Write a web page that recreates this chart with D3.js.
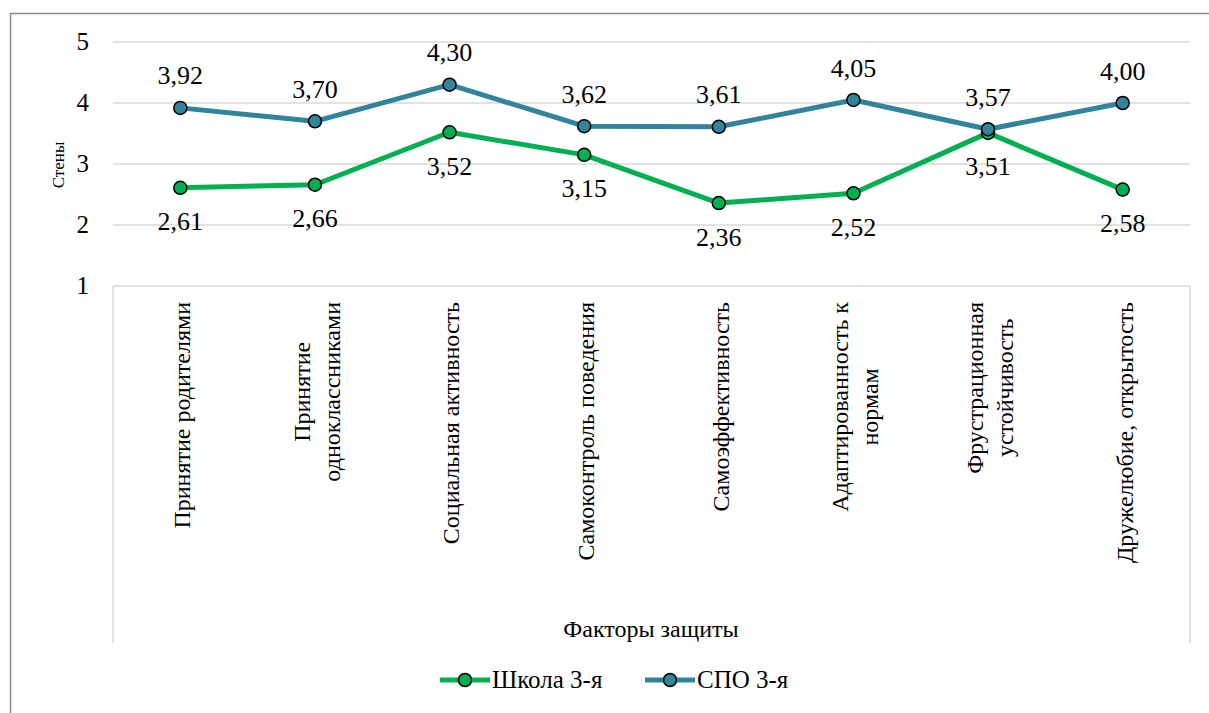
<!DOCTYPE html>
<html><head><meta charset="utf-8">
<script src="https://cdn.jsdelivr.net/npm/d3@7"></script>
<style>
svg#chart text, svg#chart tspan { font-family: "Liberation Serif", "Times New Roman", Tinos, serif !important; }
</style>
</head>
<body style="margin:0">
<svg id="chart" width="1209" height="713"></svg>
<script>
// Factors of protection (category axis)
const categories = [
  ["Принятие родителями"],
  ["Принятие", "одноклассниками"],
  ["Социальная активность"],
  ["Самоконтроль поведения"],
  ["Самоэффективность"],
  ["Адаптированность к", "нормам"],
  ["Фрустрационная", "устойчивость"],
  ["Дружелюбие, открытость"]
];
const seriesNames = ["Школа 3-я", "СПО 3-я"];
const school = [2.61, 2.66, 3.52, 3.15, 2.36, 2.52, 3.51, 2.58];
const spo = [3.92, 3.70, 4.30, 3.62, 3.61, 4.05, 3.57, 4.00];
const yTicks = [1, 2, 3, 4, 5];
const colors = ["#00B050", "#31849B"];

const svg = d3.select("#chart");

// applies the serif face to a text selection
const serif = sel => sel.attr("font-family", "Liberation Serif")
  .attr("style", "font-family: 'Liberation Serif', 'Times New Roman', serif !important");

// outer chart frame
svg.append("rect").attr("x", 10.5).attr("y", 13.5).attr("width", 1220).attr("height", 720)
  .attr("fill", "none").attr("stroke", "#8c8c8c").attr("stroke-width", 1.5);

const plotL = 113, plotR = 1190, plotT = 42, plotB = 286, labelBottom = 643;

const x = d3.scaleBand().domain(d3.range(categories.length)).range([plotL, plotR]);
const y = d3.scaleLinear().domain([1, 5]).range([plotB, plotT]);
const cxOf = i => x(i) + x.bandwidth() / 2;

// horizontal gridlines
svg.append("g").selectAll("line").data(yTicks).join("line")
  .attr("x1", plotL).attr("x2", plotR)
  .attr("y1", d => y(d)).attr("y2", d => y(d))
  .attr("stroke", "#d9d9d9").attr("stroke-width", 1.5);

// category area side rules
svg.append("g").selectAll("line").data([plotL, plotR]).join("line")
  .attr("x1", d => d).attr("x2", d => d)
  .attr("y1", plotB).attr("y2", labelBottom)
  .attr("stroke", "#d9d9d9").attr("stroke-width", 1.5);

// y tick labels
svg.selectAll("text.ytick").data(yTicks).join("text").attr("class", "ytick")
  .attr("x", 89).attr("y", d => y(d)).attr("dy", "0.33em")
  .attr("text-anchor", "end").attr("font-size", 25).attr("fill", "#000")
  .call(serif)
  .text(d => d);

// y axis title
svg.append("text").attr("transform", `translate(64,${(plotT + plotB) / 2 + 1}) rotate(-90)`)
  .attr("text-anchor", "middle").attr("font-size", 17).attr("fill", "#000")
  .call(serif).text("Стены");

// category labels, rotated, longest line ending at the axis
const lineH = 30;
const catG = svg.selectAll("text.cat").data(categories).join("text").attr("class", "cat")
  .attr("font-size", 24).attr("fill", "#000")
  .call(serif)
  .attr("transform", (d, i) => `translate(${cxOf(i) + 2},${plotB + 16}) rotate(-90)`);
catG.each(function (lines) {
  const t = d3.select(this);
  const n = lines.length;
  lines.forEach((ln, k) => {
    t.append("tspan").attr("x", 0).attr("y", (k - (n - 1) / 2) * lineH).attr("dy", "0.33em").text(ln);
  });
  let maxW = 0;
  t.selectAll("tspan").each(function () { maxW = Math.max(maxW, this.getComputedTextLength()); });
  t.selectAll("tspan").attr("x", -maxW / 2).attr("text-anchor", "middle");
});

// x axis title
svg.append("text").attr("x", 651).attr("y", 637).attr("text-anchor", "middle")
  .attr("font-size", 24).attr("fill", "#000").call(serif).text("Факторы защиты");

const fmt = v => v.toFixed(2).replace(".", ",");
const line = d3.line().x((d, i) => cxOf(i)).y(d => y(d));

[school, spo].forEach((vals, s) => {
  const g = svg.append("g");
  g.append("path").attr("d", line(vals)).attr("fill", "none")
    .attr("stroke", colors[s]).attr("stroke-width", 5).attr("stroke-linejoin", "round");
  g.selectAll("circle").data(vals).join("circle")
    .attr("cx", (d, i) => cxOf(i)).attr("cy", d => y(d)).attr("r", 6.5)
    .attr("fill", colors[s]).attr("stroke", "#000").attr("stroke-width", 1.5);
});

// data labels: СПО above, Школа below
svg.selectAll("text.lblspo").data(spo).join("text").attr("class", "lblspo")
  .attr("x", (d, i) => cxOf(i)).attr("y", d => y(d) - 32)
  .attr("dy", "0.33em").attr("text-anchor", "middle").attr("font-size", 26).attr("fill", "#000")
  .call(serif).text(fmt);
svg.selectAll("text.lblsch").data(school).join("text").attr("class", "lblsch")
  .attr("x", (d, i) => cxOf(i)).attr("y", d => y(d) + 34)
  .attr("dy", "0.33em").attr("text-anchor", "middle").attr("font-size", 26).attr("fill", "#000")
  .call(serif).text(fmt);

// legend
const legendX = [440, 645];
seriesNames.forEach((name, s) => {
  const g = svg.append("g").attr("transform", `translate(${legendX[s]},680)`);
  g.append("line").attr("x1", 0).attr("x2", 50).attr("stroke", colors[s]).attr("stroke-width", 5);
  g.append("circle").attr("cx", 25).attr("r", 6.5).attr("fill", colors[s]).attr("stroke", "#000").attr("stroke-width", 1.5);
  g.append("text").attr("x", 52).attr("dy", "0.33em").attr("font-size", 25).attr("fill", "#000")
    .call(serif).text(name);
});
</script>
</body></html>
